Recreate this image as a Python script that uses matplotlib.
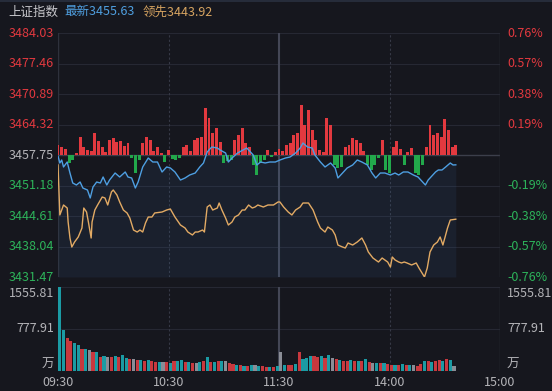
import matplotlib
matplotlib.use("Agg")
import matplotlib.pyplot as plt
from matplotlib.transforms import blended_transform_factory

plt.rcParams["font.family"] = ["Noto Sans CJK SC", "DejaVu Sans"]

# ---- data (trading minutes from 09:30, lunch break removed) ----
prev_close = 3457.75
last_price = 3455.63
lead_price = 3443.92
price_ticks = [3484.03, 3477.46, 3470.89, 3464.32, 3457.75, 3451.18, 3444.61, 3438.04, 3431.47]
vol_ticks = [777.91, 1555.81]
time_ticks = [0, 60, 120, 180, 240]
time_labels = ["09:30", "10:30", "11:30", "14:00", "15:00"]

blue_min = [0, 1, 2, 3, 5, 6.5, 8, 10, 12, 13.5, 16, 17.5, 19, 21, 23, 24.5, 26.5, 28, 31, 33.5,
            36.5, 38, 40, 42, 43.5, 46, 49, 51.5, 54, 56.5, 59, 61, 63.5, 66.5, 69, 71.5, 74.5, 77,
            79, 81, 83.5, 86.5, 88, 91, 92.5, 94.5, 97.5, 100.5, 102.5, 104.5, 106, 108, 110, 112.5,
            115, 118, 120.5, 123.5, 126, 129, 131.5, 133, 135.5, 138, 139.5, 142.5, 145, 148, 150.5,
            152, 154.5, 157, 160, 162.5, 165, 168, 170.5, 172.5, 175, 177.5, 180.5, 183, 185, 187.5,
            190, 193, 195.5, 198, 199.5, 201, 203.5, 205, 206.5, 208.5, 210.5, 213, 214.5, 216]
blue_val = [3457.53, 3456.03, 3456.67, 3455.17, 3456.24, 3453.87, 3451.72, 3451.29, 3451.93, 3450.64,
            3450.21, 3448.49, 3450.86, 3451.93, 3451.72, 3453.01, 3451.29, 3452.36, 3453.87, 3453.01,
            3454.09, 3453.01, 3452.80, 3450.64, 3451.93, 3455.17, 3457.10, 3456.24, 3456.24, 3454.09,
            3455.17, 3454.95, 3454.09, 3452.36, 3452.80, 3453.44, 3453.87, 3455.17, 3456.03, 3458.40,
            3459.47, 3459.26, 3458.83, 3458.18, 3456.24, 3457.10, 3458.18, 3458.83, 3459.26, 3458.40,
            3457.75, 3455.60, 3456.24, 3456.03, 3456.24, 3456.24, 3456.67, 3457.10, 3457.32, 3458.18,
            3459.26, 3460.33, 3459.47, 3459.26, 3457.75, 3456.24, 3455.17, 3456.03, 3454.95, 3452.80,
            3453.87, 3454.95, 3455.60, 3456.67, 3456.24, 3455.60, 3453.87, 3452.80, 3453.87, 3453.87,
            3453.44, 3453.87, 3453.44, 3454.09, 3454.09, 3453.44, 3453.01, 3451.93, 3451.29, 3452.36,
            3453.44, 3454.09, 3454.52, 3454.52, 3455.17, 3456.03, 3455.60, 3455.63]

orange_min = [0, 1, 2, 3, 5, 5.5, 6.5, 7.5, 9, 11, 13, 14, 15.5, 16.5, 18, 18.5, 20, 21.5, 24, 25.5,
              27, 29, 30, 32, 33.5, 35.5, 37.5, 39, 41, 43, 44.5, 46, 47.5, 49, 51, 52.5, 56.5, 59,
              61, 63.5, 66.5, 69, 70.5, 73, 74.5, 76, 78.5, 79.5, 81, 82.5, 84, 86.5, 87.5, 89, 91,
              92.5, 94.5, 96, 98, 100, 101.5, 103.5, 105.5, 107, 108.5, 111.5, 114, 117, 119.5,
              120.5, 122.5, 125, 127, 129, 131.5, 133, 136, 138.5, 141, 142.5, 145, 146.5, 149,
              150.5, 152, 154.5, 156, 157.5, 160, 162.5, 165, 167, 168.5, 171, 174, 176, 179, 180.5,
              181.5, 183, 185, 186.5, 188, 189.5, 192, 194.5, 196, 198, 199, 200.5, 202, 204, 206,
              207.5, 209, 211.5, 213, 216]
orange_val = [3455.60, 3444.83, 3445.90, 3446.98, 3446.33, 3443.32, 3439.87, 3437.93, 3439.01, 3440.09,
              3442.02, 3446.33, 3445.47, 3443.32, 3439.87, 3443.32, 3445.90, 3446.98, 3448.70, 3448.49,
              3446.98, 3449.78, 3450.21, 3449.13, 3447.63, 3445.90, 3445.26, 3444.18, 3441.59, 3441.16,
              3441.59, 3441.16, 3443.10, 3444.39, 3444.39, 3445.26, 3445.47, 3445.90, 3446.12, 3444.39,
              3442.67, 3442.02, 3441.16, 3440.52, 3441.16, 3441.16, 3441.59, 3441.16, 3446.55, 3446.98,
              3445.90, 3446.33, 3447.41, 3445.90, 3444.18, 3442.67, 3443.32, 3444.39, 3444.83, 3445.90,
              3445.90, 3446.98, 3446.33, 3446.55, 3446.98, 3446.55, 3446.98, 3446.98, 3447.63, 3447.63,
              3446.55, 3445.47, 3444.83, 3445.90, 3446.55, 3447.41, 3447.41, 3445.90, 3443.32, 3442.02,
              3441.16, 3442.24, 3441.59, 3440.52, 3438.36, 3437.93, 3437.72, 3438.79, 3438.36, 3439.01,
              3439.87, 3438.36, 3436.86, 3435.56, 3434.70, 3435.56, 3434.70, 3433.62, 3435.78, 3435.14,
              3434.70, 3434.49, 3434.70, 3434.49, 3434.06, 3434.49, 3433.41, 3432.12, 3431.47, 3433.41,
              3436.86, 3438.36, 3439.01, 3440.09, 3438.36, 3442.02, 3443.75, 3443.92]

# buy/sell strength bars around previous close (index points), every 2 minutes
strength = [2.15, 1.72, 1.29, -1.72, -1.08, 0.43, 3.88, 1.72, 1.08, 0.86,
            4.74, 3.02, 1.72, 0.65, 3.23, 3.66, 2.80, 3.02, 1.94, 2.58,
            -0.65, -3.88, -1.08, 2.58, 3.88, 3.23, 0.86, 1.72, 0.43, -1.51,
            1.08, -0.86, -1.08, -0.65, 1.72, 2.15, 0.86, 3.23, 3.66, 3.88,
            10.12, 7.97, 4.74, 5.82, 2.80, -1.72, -1.29, -1.08, 3.23, 4.31,
            5.82, 2.58, 1.72, -2.15, -4.31, -1.72, -1.08, 1.08, -0.43, 0.65,
            1.29, 0.86, 2.15, 2.58, 4.31, 4.74, 10.77, 6.46, 9.69, 5.39,
            3.23, 1.08, 0.65, 7.97, 6.46, -2.15, -2.80, -2.58, 1.72, 2.15,
            3.66, 3.23, 2.58, 0.86, -2.15, -3.23, -2.15, -0.65, 3.23, -3.23,
            -3.88, 1.72, 3.02, 1.29, -2.15, 0.65, 1.51, -3.88, -4.31, -2.15,
            1.72, 6.46, 4.31, 4.74, 3.88, 7.75, 5.39, 1.72, 2.15]
strength_min = list(range(0, 2 * len(strength), 2))

# volume (万)
volume = [540, 1555.81,
          760, 610, 555, 520, 480, 410, 410, 390, 350, 350,
          260, 280, 260, 260, 280, 260, 295, 240, 220, 220,
          205, 205, 185, 205, 185, 165, 165, 165, 165, 150,
          185, 185, 205, 165, 165, 150, 150, 165, 185, 260,
          165, 165, 185, 185, 185, 150, 130, 110, 110, 95,
          95, 110, 110, 95, 95, 75, 75, 75, 95, 350,
          110, 110, 110, 130, 350, 220, 240, 280, 280, 260,
          280, 240, 295, 240, 220, 205, 185, 185, 205, 185,
          185, 185, 220, 165, 150, 150, 150, 150, 130, 110,
          110, 110, 130, 110, 110, 110, 95, 130, 185, 185,
          165, 185, 205, 185, 220, 205, 95]
vol_min = [0, 1] + list(range(3, 3 + 2 * (len(volume) - 2), 2))
vol_dir = ("ng"
           "grrggrgnrg" "rgnrgrggrn" "rgrgrrgnrg" "rggrgrngrg" "rgrgnrrgrg"
           "rgngrrgrgn" "grrgrgggrr" "grgnrgrrgr" "grgrngrgrr" "grgrgnrrgr" "grrgrgn")

# ---- style ----
BG = "#16171e"
GRID = "#262833"
RED = "#e2393f"
GREEN = "#2db35a"
LABEL_GRAY = "#b4b4b8"
BLUE = "#4e9fe2"
ORANGE = "#e2aa64"
FS = 9
vol_colors = {"r": "#c8383e", "g": "#1b9ba4", "n": "#8a8d96"}

W, H = 552, 391
fig = plt.figure(figsize=(W / 100, H / 100), dpi=100, facecolor=BG)


def frac(x0, y0, x1, y1):
    return [x0 / W, 1 - y1 / H, (x1 - x0) / W, (y1 - y0) / H]


ax = fig.add_axes(frac(58, 33, 500, 277))
axv = fig.add_axes(frac(58, 287, 500, 371))
for a in (ax, axv):
    a.set_facecolor(BG)
    a.set_xlim(0, 240)
    for s in a.spines.values():
        s.set_visible(False)
    a.set_xticks([])
    a.set_yticks([])

ax.set_ylim(price_ticks[-1], price_ticks[0])
axv.set_ylim(0, vol_ticks[-1])

# grid
for v in price_ticks:
    if v == prev_close:
        ax.axhline(v, color="#3c3f4b", lw=1.0, zorder=1)
    else:
        ax.axhline(v, color=GRID, lw=0.8, zorder=1)
for v in [0] + vol_ticks:
    axv.axhline(v, color=GRID, lw=0.8, zorder=1)
for a in (ax, axv):
    a.axvline(0, color="#2e313c", lw=1.0, zorder=1)
    a.axvline(240, color="#2e313c", lw=1.0, zorder=1)
    a.axvline(60, color="#363946", lw=0.8, ls=(0, (2, 2)), zorder=1)
    a.axvline(180, color="#363946", lw=0.8, ls=(0, (2, 2)), zorder=1)
    a.axvline(120, color="#444756", lw=1.5, zorder=1)

# fill under price line
ax.fill_between(blue_min, blue_val, price_ticks[-1], color="#3b6fa8", alpha=0.11, lw=0, zorder=2)

# strength bars
ax.bar(strength_min, strength, width=1.6, bottom=prev_close,
       color=[RED if s > 0 else "#22a84b" for s in strength], zorder=3)

ax.plot(orange_min, orange_val, color=ORANGE, lw=1.0, zorder=4)
ax.plot(blue_min, blue_val, color=BLUE, lw=1.0, zorder=5)

# volume bars
axv.bar(vol_min, volume, width=1.7, color=[vol_colors[c] for c in vol_dir], zorder=3)

# axis labels
trans = blended_transform_factory(ax.transAxes, ax.transData)
lx = -4 / 442
rx = 1 + 7 / 442
for v in price_ticks:
    if v > prev_close:
        c = RED
    elif v < prev_close:
        c = GREEN
    else:
        c = LABEL_GRAY
    ax.text(lx, v, f"{v:.2f}", transform=trans, ha="right", va="center", fontsize=FS, color=c)
    pct = (v - prev_close) / prev_close * 100
    if abs(pct) > 0.001:
        ax.text(rx, v, f"{pct:.2f}%", transform=trans, ha="left", va="center",
                fontsize=FS, color=c)

vtrans = blended_transform_factory(axv.transAxes, axv.transData)
for xpos, ha in ((lx, "right"), (rx, "left")):
    axv.text(xpos, vol_ticks[1], f"{vol_ticks[1]:.2f}", transform=vtrans, ha=ha, va="top",
             fontsize=FS, color=LABEL_GRAY)
    axv.text(xpos, vol_ticks[0], f"{vol_ticks[0]:.2f}", transform=vtrans, ha=ha, va="center",
             fontsize=FS, color=LABEL_GRAY)
    axv.text(xpos, 0, "万", transform=vtrans, ha=ha, va="bottom", fontsize=FS, color=LABEL_GRAY)

ttrans = blended_transform_factory(axv.transData, axv.transAxes)
for t, lab in zip(time_ticks, time_labels):
    axv.text(t, -11 / 84, lab, transform=ttrans, ha="center", va="center",
             fontsize=FS, color=LABEL_GRAY)

# header
fig.add_artist(plt.Line2D([0, 1], [1 - 0.6 / H, 1 - 0.6 / H], color="#2a3140", lw=1.2))
hy = 1 - 12 / H
fig.text(8 / W, hy, "上证指数", ha="left", va="center", fontsize=FS, color="#c8c8cc")
fig.text(64 / W, hy, f"最新{last_price:.2f}", ha="left", va="center", fontsize=FS, color="#4f9fe0")
fig.text(143 / W, hy, f"领先{lead_price:.2f}", ha="left", va="center", fontsize=FS, color="#d7a461")

fig.savefig("out.png", dpi=100, facecolor=BG)
